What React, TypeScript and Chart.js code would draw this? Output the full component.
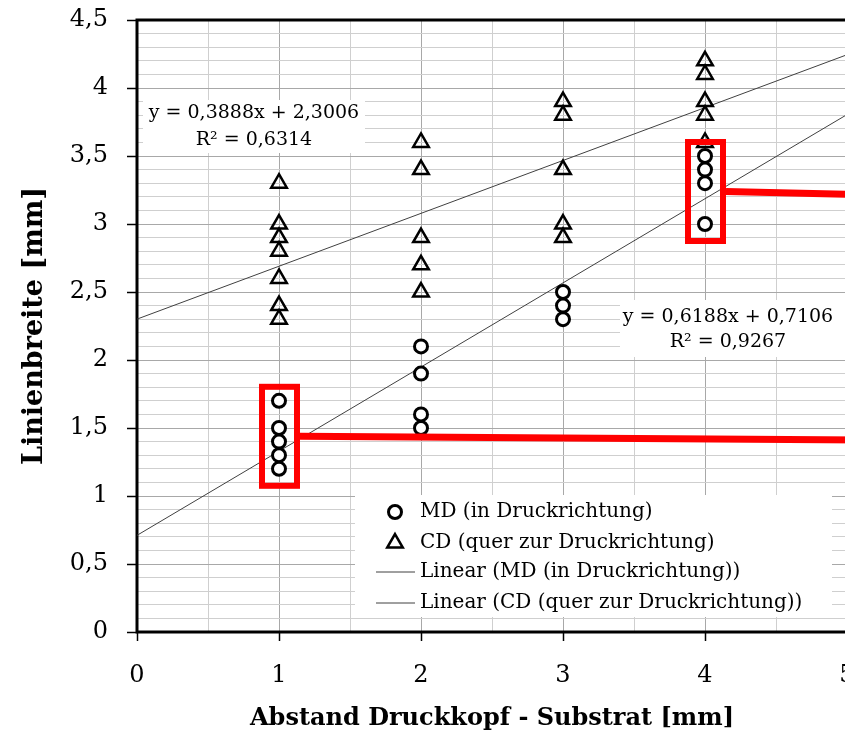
import React, { useEffect, useRef } from 'react';
import { Chart, registerables } from 'chart.js';

Chart.register(...registerables);

// ---------- data ----------
const mdX = [1, 1, 1, 1, 1, 2, 2, 2, 2, 3, 3, 3, 4, 4, 4, 4];
const mdY = [1.7, 1.5, 1.4, 1.3, 1.2, 2.1, 1.9, 1.6, 1.5, 2.5, 2.4, 2.3, 3.5, 3.4, 3.3, 3.0];
const cdX = [1, 1, 1, 1, 1, 1, 1, 2, 2, 2, 2, 2, 3, 3, 3, 3, 3, 4, 4, 4, 4, 4];
const cdY = [3.3, 3.0, 2.9, 2.8, 2.6, 2.4, 2.3, 3.6, 3.4, 2.9, 2.7, 2.5, 3.9, 3.8, 3.4, 3.0, 2.9, 4.2, 4.1, 3.9, 3.8, 3.6];
const seriesNames = ['MD (in Druckrichtung)', 'CD (quer zur Druckrichtung)'];
const trendNames = ['Linear (MD (in Druckrichtung))', 'Linear (CD (quer zur Druckrichtung))'];
const trendSlope = [0.6188, 0.3888];
const trendIntercept = [0.7106, 2.3006];
const trendR2 = [0.9267, 0.6314];
const xRange = [0, 5];
const yRange = [0, 4.5];
const xTitle = 'Abstand Druckkopf - Substrat [mm]';
const yTitle = 'Linienbreite [mm]';
const highlightX = [1, 4];

// ---------- helpers ----------
const SERIF = '"DejaVu Serif", serif';
const fmtNum = (v: number, d?: number) => (d !== undefined ? v.toFixed(d) : String(v)).replace('.', ',');
const isMultiple = (v: number, step: number) => Math.abs(v / step - Math.round(v / step)) < 1e-6;
const eqText = (i: number) => `y = ${fmtNum(trendSlope[i], 4)}x + ${fmtNum(trendIntercept[i], 4)}`;
const r2Text = (i: number) => `R² = ${fmtNum(trendR2[i], 4)}`;

const overlayPlugin = {
  id: 'overlay',
  beforeDatasetsDraw(chart: any) {
    const { ctx, chartArea: a } = chart;
    ctx.save();
    ctx.strokeStyle = '#000';
    ctx.lineWidth = 3;
    ctx.strokeRect(a.left, a.top, a.right - a.left, a.bottom - a.top);
    ctx.restore();
  },
  afterDatasetsDraw(chart: any) {
    const { ctx, chartArea: a, scales } = chart;
    const xs = scales.x;
    const ys = scales.y;
    ctx.save();

    // equation labels
    const eqPos = [
      { x: 4.162, y1: 2.316, y2: 2.132, x0: 620, x1: 860, top: 300, bottom: 357 },
      { x: 0.824, y1: 3.816, y2: 3.618, x0: 143, x1: 365, top: 100, bottom: 153 },
    ];
    ctx.font = `19px ${SERIF}`;
    ctx.textAlign = 'center';
    ctx.textBaseline = 'middle';
    [1, 0].forEach((i) => {
      const p = eqPos[i];
      ctx.fillStyle = '#fff';
      ctx.fillRect(p.x0, p.top, p.x1 - p.x0, p.bottom - p.top);
      ctx.fillStyle = '#000';
      const cx = xs.getPixelForValue(p.x);
      ctx.fillText(eqText(i), cx, ys.getPixelForValue(p.y1));
      ctx.fillText(r2Text(i), cx, ys.getPixelForValue(p.y2));
    });

    // legend
    const lx = a.left + 218;
    const ly = a.bottom - 137;
    ctx.fillStyle = '#fff';
    ctx.fillRect(lx, ly, 477, 122);
    const rowY = [ly + 17, ly + 48, ly + 77, ly + 108];
    const symX = lx + 40;
    ctx.strokeStyle = '#000';
    ctx.lineWidth = 3;
    ctx.beginPath();
    ctx.arc(symX, rowY[0], 6.5, 0, Math.PI * 2);
    ctx.stroke();
    ctx.beginPath();
    const r = 9;
    for (let k = 0; k < 3; k++) {
      const ang = (k * 2 * Math.PI) / 3;
      const px = symX + Math.sin(ang) * r;
      const py = rowY[1] - Math.cos(ang) * r;
      if (k === 0) ctx.moveTo(px, py);
      else ctx.lineTo(px, py);
    }
    ctx.closePath();
    ctx.lineWidth = 2.5;
    ctx.stroke();
    ctx.strokeStyle = '#404040';
    ctx.lineWidth = 1;
    [2, 3].forEach((k) => {
      ctx.beginPath();
      ctx.moveTo(lx + 21, rowY[k]);
      ctx.lineTo(lx + 60, rowY[k]);
      ctx.stroke();
    });
    ctx.fillStyle = '#000';
    ctx.font = `20px ${SERIF}`;
    ctx.textAlign = 'left';
    ctx.textBaseline = 'middle';
    const labels = [seriesNames[0], seriesNames[1], trendNames[0], trendNames[1]];
    labels.forEach((t, k) => ctx.fillText(t, lx + 65, rowY[k]));

    // red highlight boxes around MD groups
    ctx.strokeStyle = '#ff0000';
    highlightX.forEach((hx) => {
      const ys2 = mdY.filter((_, j) => mdX[j] === hx);
      const top = ys.getPixelForValue(Math.max(...ys2)) - 14;
      const bottom = ys.getPixelForValue(Math.min(...ys2)) + 17;
      const cx = xs.getPixelForValue(hx);
      const left = cx - 17;
      const right = cx + 18;
      ctx.lineWidth = 6;
      ctx.strokeRect(left, top, right - left, bottom - top);
      const my = (top + bottom) / 2;
      ctx.lineWidth = 7;
      ctx.beginPath();
      ctx.moveTo(right + 3, my);
      ctx.lineTo(chart.width, my + 4);
      ctx.stroke();
    });
    ctx.restore();
  },
};

function ScatterChart() {
  const ref = useRef<HTMLCanvasElement>(null);
  useEffect(() => {
    if (!ref.current) return;
    const md = mdX.map((x, i) => ({ x, y: mdY[i] }));
    const cd = cdX.map((x, i) => ({ x, y: cdY[i] }));
    const trend = (i: number) => xRange.map((x) => ({ x, y: trendIntercept[i] + trendSlope[i] * x }));
    const chart = new Chart(ref.current, {
      type: 'scatter',
      data: {
        datasets: [
          {
            label: seriesNames[0],
            data: md,
            pointStyle: 'circle',
            pointRadius: 6.5,
            pointBorderWidth: 3,
            borderColor: '#000',
            backgroundColor: '#fff',
            order: 1,
          },
          {
            label: seriesNames[1],
            data: cd,
            pointStyle: 'triangle',
            pointRadius: 9,
            pointBorderWidth: 2.5,
            borderColor: '#000',
            backgroundColor: 'rgba(255,255,255,0)',
            order: 2,
          },
          {
            type: 'line',
            label: trendNames[0],
            data: trend(0),
            borderColor: '#404040',
            borderWidth: 1,
            pointRadius: 0,
            fill: false,
            order: 3,
          },
          {
            type: 'line',
            label: trendNames[1],
            data: trend(1),
            borderColor: '#404040',
            borderWidth: 1,
            pointRadius: 0,
            fill: false,
            order: 4,
          },
        ] as any,
      },
      options: {
        animation: false,
        responsive: false,
        layout: { padding: { top: 20, right: 53, left: 0, bottom: 0 } },
        plugins: { legend: { display: false }, tooltip: { enabled: false } },
        scales: {
          x: {
            type: 'linear',
            min: xRange[0],
            max: xRange[1],
            afterFit: (s: any) => { s.height = 101; s.paddingLeft = 0; s.paddingRight = 0; },
            border: { display: false },
            grid: {
              color: (c: any) => (isMultiple(c.tick.value, 1) ? '#a8a8a8' : '#cfcfcf'),
              lineWidth: 1,
              tickLength: 9,
              tickWidth: 1.5,
              tickColor: (c: any) => (isMultiple(c.tick.value, 1) ? '#000' : 'rgba(0,0,0,0)'),
            },
            ticks: {
              stepSize: 0.5,
              autoSkip: false,
              maxRotation: 0,
              padding: 20,
              color: '#000',
              font: { family: SERIF, size: 24 },
              callback: (v: any) => (isMultiple(Number(v), 1) ? fmtNum(Number(v)) : ''),
            },
            title: {
              display: true,
              text: xTitle,
              color: '#000',
              font: { family: SERIF, size: 24, weight: 'bold' },
              padding: { top: 0, bottom: 0 },
            },
          },
          y: {
            type: 'linear',
            min: yRange[0],
            max: yRange[1],
            afterFit: (s: any) => { s.width = 137; s.paddingTop = 0; s.paddingBottom = 0; },
            border: { display: false },
            grid: {
              color: (c: any) => (isMultiple(c.tick.value, 0.5) ? '#a8a8a8' : '#cfcfcf'),
              lineWidth: 1,
              tickLength: 10,
              tickWidth: 1.5,
              tickColor: (c: any) => (isMultiple(c.tick.value, 0.5) ? '#000' : 'rgba(0,0,0,0)'),
            },
            ticks: {
              stepSize: 0.1,
              autoSkip: false,
              padding: 19,
              color: '#000',
              font: { family: SERIF, size: 24 },
              callback: (v: any) => (isMultiple(Number(v), 0.5) ? fmtNum(Math.round(Number(v) * 10) / 10) : ''),
            },
            title: {
              display: true,
              text: yTitle,
              color: '#000',
              font: { family: SERIF, size: 27, weight: 'bold' },
              padding: { top: 19, bottom: 0 },
            },
          },
        },
      },
      plugins: [overlayPlugin],
    });
    return () => chart.destroy();
  }, []);
  return <canvas ref={ref} width={900} height={733} style={{ width: 900, height: 733, display: 'block' }} />;
}

export default function App() {
  return (
    <div style={{ position: 'fixed', left: 0, top: 0, width: 845, height: 733, overflow: 'hidden', background: '#fff' }}>
      <ScatterChart />
    </div>
  );
}
